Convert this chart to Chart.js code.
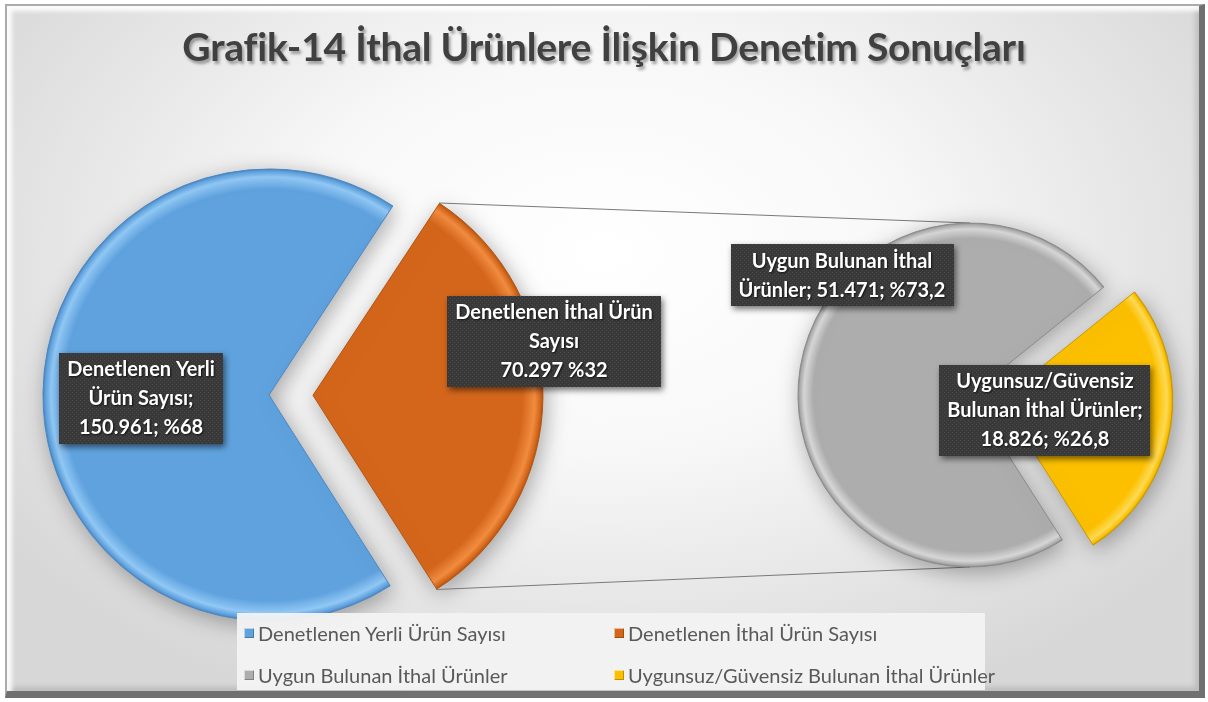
<!DOCTYPE html>
<html lang="tr">
<head>
<meta charset="utf-8">
<title>Grafik-14</title>
<script src="https://cdn.jsdelivr.net/npm/chart.js@4.4.1/dist/chart.umd.min.js"></script>
<style>
  html, body { margin:0; padding:0; background:#fff; }
  #wrap { position:relative; width:1208px; height:702px; overflow:hidden; }
  #frame { position:absolute; left:5px; top:4px; width:1200px; height:694px; box-sizing:border-box;
    border-style:solid; border-width:2px 6px 7px 2px; border-color:#ababab #707070 #707070 #ababab;
    background: radial-gradient(ellipse 62% 72% at 50% 36%, #ffffff 0%, #f8f8f8 40%, #e3e3e3 78%, #d7d7d7 100%);
    box-shadow: inset 5px 5px 4px rgba(255,255,255,0.9), inset -4px -4px 5px rgba(0,0,0,0.12); }
  canvas { position:absolute; left:0; top:0; }
  #title { position:absolute; left:0; top:23px; width:1208px; text-align:center; font:bold 39px Lato, sans-serif;
    letter-spacing:-0.2px; color:#404040; text-shadow:2px 3px 3px rgba(0,0,0,0.35); }
  #legend { position:absolute; left:237px; top:613px; width:748px; height:77px; background:rgba(243,243,243,0.96);
    font:20px Lato, sans-serif; color:#595959; }
  .li { position:absolute; display:flex; align-items:center; white-space:nowrap; height:24px; }
  .li i { display:inline-block; width:10px; height:10px; margin-right:4px;
    box-shadow: inset 1px 1px 0 rgba(255,255,255,0.55), inset -1px -1px 0 rgba(0,0,0,0.25); }
</style>
</head>
<body>
<div id="wrap">
  <div id="frame"></div>
  <canvas id="pie1" width="1208" height="702"></canvas>
  <canvas id="pie2" width="1208" height="702"></canvas>
  <div id="title">Grafik-14 İthal Ürünlere İlişkin Denetim Sonuçları</div>
  <div id="legend"></div>
</div>
<script>
// data
const leftLabels = ['Denetlenen Yerli Ürün Sayısı', 'Denetlenen İthal Ürün Sayısı'];
const leftValues = [150961, 70297];
const leftTexts = [
  ['Denetlenen Yerli', 'Ürün Sayısı;', '150.961; %68'],
  ['Denetlenen İthal Ürün', 'Sayısı', '70.297 %32']
];
const rightLabels = ['Uygun Bulunan İthal Ürünler', 'Uygunsuz/Güvensiz Bulunan İthal Ürünler'];
const rightValues = [51471, 18826];
const rightTexts = [
  ['Uygun Bulunan İthal', 'Ürünler; 51.471; %73,2'],
  ['Uygunsuz/Güvensiz', 'Bulunan İthal Ürünler;', '18.826; %26,8']
];

// look
const PAL = {
  blue:   {fill:'#5fa2de', rim:'#92c9f6', edge:'#4a86c2'},
  orange: {fill:'#d4661b', rim:'#f28d40', edge:'#b45310'},
  grey:   {fill:'#adadad', rim:'#d8d8d8', edge:'#8a8a8a'},
  yellow: {fill:'#fcc000', rim:'#ffdb55', edge:'#c89800'}
};
const leftOffsets = [0, 176];   // arc draws offset/4 px
const rightOffsets = [0, 124];
const LINE_H = 29;

function bevel(pals){
  return (c)=>{
    const p = pals[c.dataIndex % pals.length];
    const el = c.element;
    if(!el || el.x === undefined || !el.outerRadius) return p.fill;
    const off = ((c.dataset.offset || [])[c.dataIndex] || 0) / 4;
    const fix = 1 - Math.sin(Math.min(Math.PI, el.endAngle - el.startAngle));
    const r = el.outerRadius + off*fix;
    const g = c.chart.ctx.createRadialGradient(el.x, el.y, 0, el.x, el.y, r);
    g.addColorStop(0, p.fill);
    g.addColorStop(0.91, p.fill);
    g.addColorStop(0.965, p.rim);
    g.addColorStop(0.99, p.fill);
    g.addColorStop(1, p.edge);
    return g;
  };
}

const shade = {
  id:'shade',
  beforeDatasetsDraw(chart){
    const c = chart.ctx; c.save();
    c.shadowColor = 'rgba(0,0,0,0.32)'; c.shadowBlur = 22; c.shadowOffsetX = 3; c.shadowOffsetY = 5;
  },
  afterDatasetsDraw(chart){ chart.ctx.restore(); }
};

const dots = document.createElement('canvas'); dots.width = dots.height = 4;
(function(){ const d = dots.getContext('2d'); d.fillStyle = '#393939'; d.fillRect(0,0,4,4);
  d.fillStyle = '#4a4a4a'; d.fillRect(0,0,1,1); d.fillRect(2,2,1,1); })();

const boxes = {
  id:'boxes',
  afterDatasetsDraw(chart, args, opts){
    const c = chart.ctx;
    const els = chart.getDatasetMeta(0).data;
    c.save();
    c.font = 'bold 20px Lato, sans-serif';
    c.textAlign = 'center'; c.textBaseline = 'middle';
    els.forEach((el, i)=>{
      const lines = opts.texts[i];
      const w = Math.max(...lines.map(t=>c.measureText(t).width)) + 16;
      const h = lines.length*LINE_H + 4;
      const cx = el.x + opts.shift[i][0], cy = el.y + opts.shift[i][1];
      c.save();
      c.shadowColor = 'rgba(0,0,0,0.55)'; c.shadowBlur = 6; c.shadowOffsetX = 2; c.shadowOffsetY = 3;
      c.fillStyle = c.createPattern(dots, 'repeat');
      c.fillRect(Math.round(cx - w/2), Math.round(cy - h/2), Math.round(w), Math.round(h));
      c.restore();
      c.save();
      c.shadowColor = 'rgba(0,0,0,0.7)'; c.shadowBlur = 2; c.shadowOffsetX = 1; c.shadowOffsetY = 1;
      c.fillStyle = '#ffffff';
      lines.forEach((t, k)=>{ c.fillText(t, cx, cy - (lines.length-1)*LINE_H/2 + k*LINE_H + 1); });
      c.restore();
    });
    c.restore();
  }
};

const leftChart = new Chart(document.getElementById('pie1'), {
  type:'pie',
  data:{ labels:leftLabels, datasets:[{
    data:leftValues, offset:leftOffsets,
    backgroundColor:bevel([PAL.blue, PAL.orange]),
    borderColor:[PAL.blue.edge, PAL.orange.edge], borderWidth:1
  }]},
  options:{
    responsive:false, animation:false, events:[], rotation:147.6, radius:226,
    layout:{padding:{left:0, right:670, top:88, bottom:0}},
    plugins:{ legend:{display:false}, tooltip:{enabled:false},
      boxes:{texts:leftTexts, shift:[[-128, 3], [285, -54]]} }
  },
  plugins:[shade, boxes]
});
leftChart.update('none');

// series lines from the exploded slice to the second pie
const links = {
  id:'links',
  beforeDatasetsDraw(chart){
    const src = leftChart.getDatasetMeta(0).data[1];
    const dst = chart.getDatasetMeta(0).data[0];
    const o = leftOffsets[1]/4;
    const mid = (src.startAngle + src.endAngle)/2;
    const fix = 1 - Math.sin(Math.min(Math.PI, src.endAngle - src.startAngle));
    const ox = src.x + Math.cos(mid)*o, oy = src.y + Math.sin(mid)*o, r = src.outerRadius + o*fix;
    const c = chart.ctx;
    c.save(); c.strokeStyle = '#7a7a7a'; c.lineWidth = 1.1;
    c.beginPath();
    c.moveTo(ox + Math.cos(src.startAngle)*r, oy + Math.sin(src.startAngle)*r);
    c.lineTo(dst.x, dst.y - dst.outerRadius);
    c.moveTo(ox + Math.cos(src.endAngle)*r, oy + Math.sin(src.endAngle)*r);
    c.lineTo(dst.x, dst.y + dst.outerRadius);
    c.stroke(); c.restore();
  }
};

const rightChart = new Chart(document.getElementById('pie2'), {
  type:'pie',
  data:{ labels:rightLabels, datasets:[{
    data:rightValues, offset:rightOffsets,
    backgroundColor:bevel([PAL.grey, PAL.yellow]),
    borderColor:[PAL.grey.edge, PAL.yellow.edge], borderWidth:1
  }]},
  options:{
    responsive:false, animation:false, events:[], rotation:147.5, radius:172,
    layout:{padding:{left:732, right:0, top:88, bottom:0}},
    plugins:{ legend:{display:false}, tooltip:{enabled:false},
      boxes:{texts:rightTexts, shift:[[-128, -120], [75, 15]]} }
  },
  plugins:[links, shade, boxes]
});
rightChart.update('none');

// legend
const legendEl = document.getElementById('legend');
const legendItems = [
  [leftLabels[0], PAL.blue], [leftLabels[1], PAL.orange],
  [rightLabels[0], PAL.grey], [rightLabels[1], PAL.yellow]
];
legendItems.forEach(([txt, p], i)=>{
  const d = document.createElement('div');
  d.className = 'li';
  d.style.left = (i % 2 ? 377 : 7) + 'px';
  d.style.top = (i < 2 ? 8 : 50) + 'px';
  d.innerHTML = `<i style="background:${p.fill}"></i><span>${txt}</span>`;
  legendEl.appendChild(d);
});
</script>
</body>
</html>
